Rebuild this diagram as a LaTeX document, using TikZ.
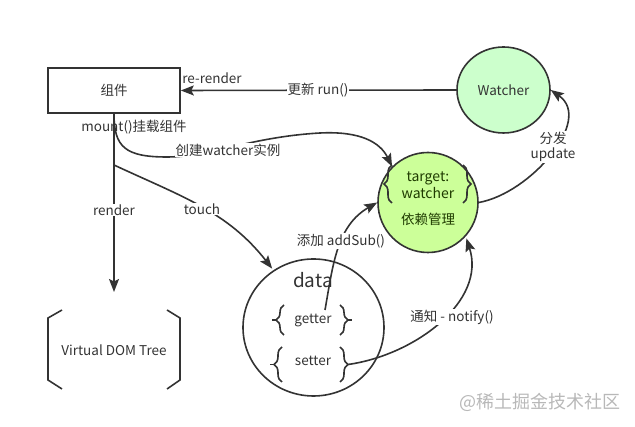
\documentclass[tikz,border=0pt]{standalone}
\usepackage{fontspec}
\setmainfont{Noto Sans CJK SC}
\usetikzlibrary{shapes.geometric,arrows.meta,decorations.pathreplacing}
\definecolor{ink}{HTML}{333333}
\definecolor{wfill}{HTML}{CCFFCC}
\definecolor{tfill}{HTML}{CCFF99}
\definecolor{tink}{HTML}{1F3B00}
\definecolor{wm}{HTML}{B8B8B8}
\tikzset{
  line/.style={draw=ink, line width=1.6pt},
  arr/.style={line, -{Stealth[length=13pt,width=10pt,inset=2.5pt]}},
  lbl/.style={fill=white, inner sep=1pt, text=ink, font=\fontsize{13.5}{15}\selectfont},
  txt/.style={inner sep=0pt, text=ink, font=\fontsize{13.5}{15}\selectfont},
  bracebig/.style={line, decorate, decoration={brace, amplitude=8pt}},
}
\begin{document}
\begin{tikzpicture}[x=1pt,y=1pt]
\useasboundingbox (0,0) rectangle (635,427);
% nodes
\node[line, rectangle, minimum width=132pt, minimum height=45pt, txt, inner sep=0pt] (comp) at (114,336.5) {组件};
\node[line, ellipse, fill=wfill, minimum width=93pt, minimum height=86pt, txt, inner sep=0pt] (watcher) at (503.5,337) {Watcher};
\node[line, circle, fill=tfill, minimum size=100pt, inner sep=0pt] (target) at (428,224.5) {};
\node[line, ellipse, minimum width=141pt, minimum height=137pt, inner sep=0pt] (data) at (313.5,99.5) {};
\node[txt] (vdom) at (114,77) {Virtual DOM Tree};
% texts inside
\node[txt, text=tink, align=center, font=\fontsize{14}{16.5}\selectfont] (ttext) at (428,242) {target:\\watcher};
\node[txt, text=tink] (tdep) at (428,208) {依赖管理};
\node[txt, font=\fontsize{19}{21}\selectfont] (dtext) at (313,147) {data};
\node[txt] (getter) at (313,107) {getter};
\node[txt] (setter) at (313,66) {setter};
% brackets of Virtual DOM Tree
\draw[line] (62,117) -- (48,109) -- (48,47) -- (62,38);
\draw[line] (167,117) -- (180,109) -- (180,47) -- (167,38);
% braces
\draw[bracebig] (284,92) -- (284,122);
\draw[bracebig] (340,122) -- (340,92);
\draw[bracebig] (282,45) -- (282,80);
\draw[bracebig] (340,80) -- (340,45);
\draw[bracebig] (392,224) -- (392,262);
\draw[bracebig] (463,262) -- (463,224);
% small tip stubs
\draw[line] (276,107) -- (272,107);
\draw[line] (348,107) -- (352,107);
\draw[line] (274,62.5) -- (270,62.5);
% coordinates
\coordinate (rtip) at (114,135);
\coordinate (t0) at (114,262);
\coordinate (gtip) at (325,117);
\coordinate (stip) at (348,62.5);
% connectors
\draw[arr] (watcher.west) -- (comp.east);
\draw[arr] (comp.south) -- (rtip);
\draw[arr, shorten >=2pt] (t0) to[out=-25, in=128] (data.125);
\draw[arr] (comp.south) .. controls (114,280) and (125,270) .. (167,270)
   .. controls (210,270) and (250,290) .. (320,294)
   .. controls (360,296) and (380,285) .. (target.135);
\draw[arr] (gtip) to[out=80, in=210] (target.west);
\draw[arr, shorten >=2pt] (stip) to[out=8, in=-72] (target.-42);
\draw[arr] (target.east) to[out=10, in=-35] (watcher.east);
% labels
\node[lbl] (lrun) at (318,337) {更新 run()};
\node[txt] (lrer) at (212,349) {re-render};
\node[txt] (lmount) at (134,300) {mount()挂载组件};
\node[lbl] (lcreate) at (228,277) {创建watcher实例};
\node[lbl] (lrender) at (114,217) {render};
\node[lbl] (ltouch) at (202,218) {touch};
\node[lbl] (ladd) at (341,186) {添加 addSub()};
\node[lbl] (lnotify) at (452,110) {通知 - notify()};
\node[lbl, align=center] (lupd) at (553,280) {分发\\update};
\node[txt, text=wm, font=\fontsize{18}{20}\selectfont] (wmark) at (540,25) {@稀土掘金技术社区};
\end{tikzpicture}
\end{document}
